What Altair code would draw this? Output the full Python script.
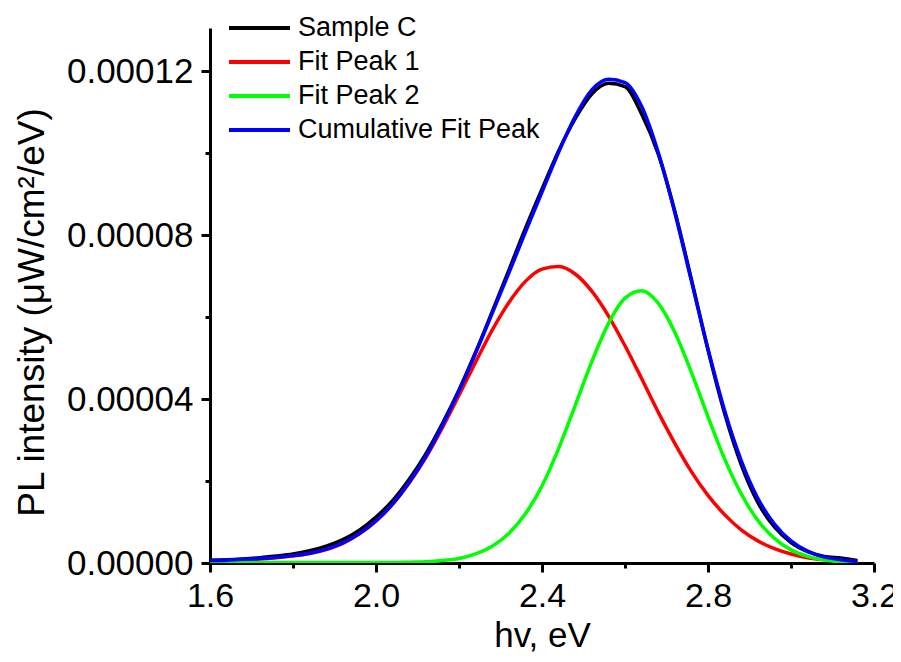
import altair as alt
import pandas as pd

# photon energy grid (eV)
energy = [1.60, 1.64, 1.68, 1.72, 1.76, 1.80, 1.84, 1.88, 1.92, 1.96,
          2.00, 2.04, 2.08, 2.12, 2.16, 2.20, 2.24, 2.28, 2.32, 2.36,
          2.40, 2.44, 2.48, 2.52, 2.56, 2.60, 2.64, 2.68, 2.72, 2.76,
          2.80, 2.84, 2.88, 2.92, 2.96, 3.00, 3.04, 3.08, 3.12, 3.16]

# values in units of 1e-5 uW/cm^2/eV
sample_c = [0.07, 0.08, 0.10, 0.13, 0.17, 0.22, 0.30, 0.41, 0.57, 0.80,
            1.12, 1.52, 2.04, 2.66, 3.40, 4.22, 5.14, 6.13, 7.14, 8.16,
            9.12, 10.05, 10.84, 11.44, 11.70, 11.62, 10.95, 9.98, 8.58, 6.92,
            5.20, 3.65, 2.40, 1.48, 0.88, 0.50, 0.28, 0.16, 0.12, 0.06]
fit_peak_1 = [0.05, 0.06, 0.08, 0.10, 0.13, 0.17, 0.23, 0.33, 0.48, 0.71,
              1.02, 1.43, 1.95, 2.57, 3.30, 4.09, 4.90, 5.68, 6.35, 6.87,
              7.17, 7.23, 7.05, 6.63, 6.03, 5.30, 4.50, 3.68, 2.92, 2.23,
              1.65, 1.18, 0.81, 0.54, 0.35, 0.22, 0.13, 0.08, 0.05, 0.03]
fit_peak_2 = [0.01, 0.01, 0.01, 0.01, 0.01, 0.01, 0.01, 0.01, 0.01, 0.01,
              0.01, 0.01, 0.02, 0.03, 0.06, 0.11, 0.22, 0.41, 0.72, 1.20,
              1.88, 2.79, 3.84, 4.91, 5.84, 6.46, 6.64, 6.34, 5.63, 4.65,
              3.57, 2.54, 1.69, 1.04, 0.60, 0.32, 0.16, 0.07, 0.03, 0.01]
cumulative = [0.06, 0.07, 0.09, 0.11, 0.14, 0.18, 0.24, 0.34, 0.49, 0.72,
              1.03, 1.44, 1.97, 2.60, 3.36, 4.20, 5.12, 6.09, 7.07, 8.07,
              9.05, 10.02, 10.89, 11.54, 11.80, 11.72, 11.14, 10.02, 8.55, 6.88,
              5.22, 3.72, 2.50, 1.58, 0.95, 0.54, 0.29, 0.15, 0.08, 0.04]

series_names = ["Sample C", "Fit Peak 1", "Fit Peak 2", "Cumulative Fit Peak"]
series_colors = ["#000000", "#ff0000", "#00ff00", "#0000ff"]
series_values = [sample_c, fit_peak_1, fit_peak_2, cumulative]

x_ticks = [1.6, 1.8, 2.0, 2.2, 2.4, 2.6, 2.8, 3.0, 3.2]
y_ticks = [0.0, 0.00002, 0.00004, 0.00006, 0.00008, 0.00010, 0.00012]

rows = []
for name, vals in zip(series_names, series_values):
    for e, v in zip(energy, vals):
        rows.append({"hv": e, "PL": v * 1e-5, "series": name})
df = pd.DataFrame(rows)

FONT = "Liberation Sans"

color = alt.Color(
    "series:N",
    scale=alt.Scale(domain=series_names, range=series_colors),
    sort=series_names,
    legend=alt.Legend(
        title=None, orient="none", legendX=17, legendY=-17,
        symbolType="stroke", symbolSize=3721, symbolStrokeWidth=4,
        clipHeight=34, labelFontSize=27, labelFont=FONT, labelColor="black",
        labelOffset=6, padding=0, rowPadding=0, labelLimit=400,
    ),
)

x_axis = alt.Axis(
    values=x_ticks, title="hv, eV", titleFontSize=35, titleFont=FONT,
    titleFontWeight="normal", titleColor="black", titlePadding=5,
    labelFontSize=34, labelFont=FONT, labelColor="black", labelPadding=7,
    labelExpr="round(datum.value*10) % 4 == 0 ? format(datum.value, '.1f') : ''",
    tickSize={"condition": {"test": "round(datum.value*10) % 4 == 0", "value": 9}, "value": 5},
    tickWidth=3, tickColor="black", domainWidth=3, domainColor="black",
    grid=False, labelFlush=False, labelOverlap=False,
)
y_axis = alt.Axis(
    values=y_ticks, title="PL intensity (μW/cm²/eV)", titleFontSize=37,
    titleFont=FONT, titleFontWeight="normal", titleColor="black", titlePadding=15,
    titleY=284,
    labelFontSize=35, labelFont=FONT, labelColor="black", labelPadding=8,
    labelExpr="round(datum.value*1e5) % 4 == 0 ? format(datum.value, '.5f') : ''",
    tickSize={"condition": {"test": "round(datum.value*1e5) % 4 == 0", "value": 9}, "value": 5},
    tickWidth=3, tickColor="black", domainWidth=3, domainColor="black",
    grid=False, labelFlush=False, labelOverlap=False,
)

layers = []
for name in series_names:
    layers.append(
        alt.Chart(df)
        .transform_filter(alt.datum.series == name)
        .mark_line(strokeWidth=3.5, interpolate="monotone", clip=True)
        .encode(
            x=alt.X("hv:Q", scale=alt.Scale(domain=[1.6, 3.2], nice=False, zero=False), axis=x_axis),
            y=alt.Y("PL:Q", scale=alt.Scale(domain=[0, 0.0001305], nice=False), axis=y_axis),
            color=color,
        )
    )

chart = (
    alt.layer(*layers)
    .properties(
        width=664, height=535,
        autosize=alt.AutoSizeParams(type="none"),
        padding={"left": 202, "top": 20, "right": 19, "bottom": 91},
        background="white",
    )
    .configure_view(strokeWidth=0)
)

chart.save("out.html", embed_options={"renderer": "svg", "actions": False})
